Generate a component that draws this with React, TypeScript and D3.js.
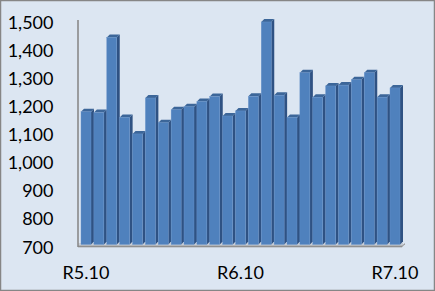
import React from "react";
import * as d3 from "d3";

const months: string[] = [
  "R5.10", "R5.11", "R5.12", "R6.1", "R6.2", "R6.3", "R6.4", "R6.5", "R6.6",
  "R6.7", "R6.8", "R6.9", "R6.10", "R6.11", "R6.12", "R7.1", "R7.2", "R7.3",
  "R7.4", "R7.5", "R7.6", "R7.7", "R7.8", "R7.9", "R7.10",
];
const values: number[] = [
  1173, 1170, 1438, 1153, 1094, 1222, 1134, 1180, 1191, 1210, 1227, 1158, 1176,
  1228, 1493, 1232, 1153, 1312, 1225, 1265, 1268, 1287, 1312, 1225, 1258,
];
const yTicks: number[] = [700, 800, 900, 1000, 1100, 1200, 1300, 1400, 1500];
const xTickLabels: string[] = ["R5.10", "R6.10", "R7.10"];

const W = 435;
const H = 291;
const DX = 3;
const DY = 3;

export default function App() {
  const x = d3
    .scaleBand<string>()
    .domain(months)
    .range([78, 403])
    .paddingInner(0.223)
    .paddingOuter(0.233);
  const y = d3.scaleLinear().domain([700, 1500]).range([244.5, 20]);
  const bw = x.bandwidth();
  const fmt = d3.format(",");
  const base = y(700);

  return (
    <svg
      width={W}
      height={H}
      style={{ position: "absolute", left: 0, top: 0 }}
    >
      <rect x={0.5} y={0.5} width={W - 1} height={H - 1} fill="#dce6f2" stroke="#868686" strokeWidth={1.5} />
      {/* floor */}
      <rect x={78} y={243} width={325} height={2.5} fill="#c9ced6" />
      <rect x={78} y={245.5} width={324} height={1.8} fill="#8f8f8f" />
      <polygon points="402,247.3 405,244.3 405,243 402,245.5" fill="#a0a0a0" />
      {/* axis line */}
      <line x1={78} x2={78} y1={20} y2={247} stroke="#8a8a8a" strokeWidth={1.6} />
      {/* bars */}
      {months.map((m, i) => {
        const x0 = x(m)!;
        const x1 = x0 + bw;
        const yt = y(values[i]);
        return (
          <g key={m}>
            <polygon
              points={`${x1},${yt} ${x1 + DX},${yt - DY} ${x1 + DX},${base - DY} ${x1},${base}`}
              fill="#2f5283"
            />
            <polygon
              points={`${x0},${yt} ${x0 + DX},${yt - DY} ${x1 + DX},${yt - DY} ${x1},${yt}`}
              fill="#3c6699"
            />
            <rect x={x0} y={yt} width={bw} height={base - yt} fill="#4f81bd" stroke="#6a95cb" strokeWidth={0.4} />
          </g>
        );
      })}
      {/* y labels */}
      {yTicks.map((t) => (
        <text
          key={t}
          x={53.5}
          y={y(t) + 2}
          textAnchor="end"
          dominantBaseline="central"
          fontFamily="Lato, 'Liberation Sans', sans-serif"
          fontSize={18}
          fill="#000"
        >
          {fmt(t)}
        </text>
      ))}
      {/* x labels */}
      {xTickLabels.map((l) => (
        <text
          key={l}
          x={x(l)! + bw / 2}
          y={279.3}
          textAnchor="middle"
          fontFamily="Lato, 'Liberation Sans', sans-serif"
          fontSize={18}
          fill="#000"
        >
          {l}
        </text>
      ))}
    </svg>
  );
}
